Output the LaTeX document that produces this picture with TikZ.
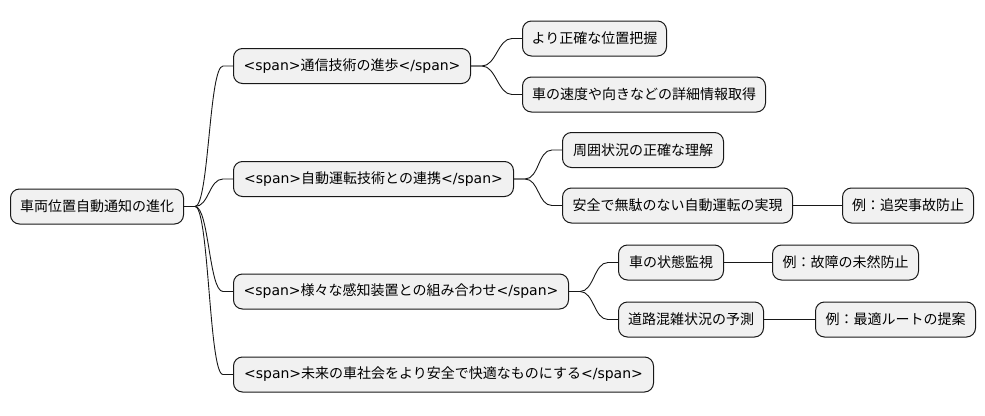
\documentclass[tikz,border=0pt]{standalone}
\usepackage{fontspec}
\setmainfont{DejaVu Sans}
\newfontfamily\cjkf{Noto Sans CJK JP}
\definecolor{boxfill}{HTML}{F1F1F1}
\definecolor{boxline}{HTML}{181818}
\newcommand\spantag[1]{<span>{\cjkf #1}</span>}
\tikzset{
  box/.style={draw=boxline, fill=boxfill, line width=1pt, rounded corners=9pt,
    minimum height=35pt, inner xsep=0pt, inner ysep=0pt, anchor=west,
    font=\fontsize{14}{16}\selectfont},
  conn/.style={draw=boxline, line width=0.9pt},
}
\newcommand\link[2]{\draw[conn] (#1.east) -- ++(11pt,0) .. controls +(14pt,0) and +(-14pt,0) .. ([xshift=-10pt]#2.west) -- (#2.west);}
\begin{document}
\begin{tikzpicture}[x=1pt,y=-1pt]
\useasboundingbox (0,0) rectangle (985,415);
\node[box, minimum width=173pt] (root) at (10,206.5) {\cjkf 車両位置自動通知の進化};
\node[box, minimum width=237pt] (n1) at (233,66) {\spantag{通信技術の進歩}};
\node[box, minimum width=280pt] (n2) at (233,179) {\spantag{自動運転技術との連携}};
\node[box, minimum width=335pt] (n3) at (233,291.5) {\spantag{様々な感知装置との組み合わせ}};
\node[box, minimum width=420pt] (n4) at (233,374.5) {\spantag{未来の車社会をより安全で快適なものにする}};
\node[box, minimum width=144pt] (a1) at (522,38.5) {\cjkf より正確な位置把握};
\node[box, minimum width=243pt] (a2) at (522,94.5) {\cjkf 車の速度や向きなどの詳細情報取得};
\node[box, minimum width=161pt] (b1) at (562,150) {\cjkf 周囲状況の正確な理解};
\node[box, minimum width=230pt] (b2) at (562,205.5) {\cjkf 安全で無駄のない自動運転の実現};
\node[box, minimum width=131pt] (b2a) at (842,205.5) {\cjkf 例：追突事故防止};
\node[box, minimum width=105pt] (c1) at (618,262.5) {\cjkf 車の状態監視};
\node[box, minimum width=146pt] (c1a) at (772,262.5) {\cjkf 例：故障の未然防止};
\node[box, minimum width=145pt] (c2) at (618,319.5) {\cjkf 道路混雑状況の予測};
\node[box, minimum width=160pt] (c2a) at (815,319.5) {\cjkf 例：最適ルートの提案};
\link{root}{n1}
\link{root}{n2}
\link{root}{n3}
\link{root}{n4}
\link{n1}{a1}
\link{n1}{a2}
\link{n2}{b1}
\link{n2}{b2}
\link{b2}{b2a}
\link{n3}{c1}
\link{n3}{c2}
\link{c1}{c1a}
\link{c2}{c2a}
\end{tikzpicture}
\end{document}
